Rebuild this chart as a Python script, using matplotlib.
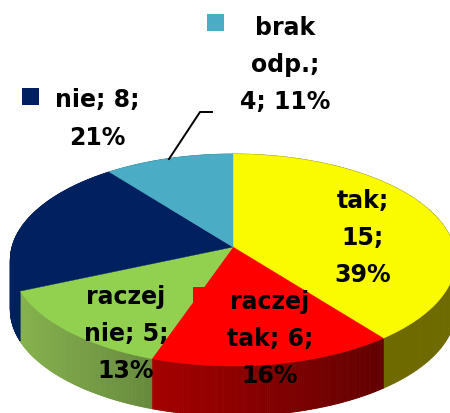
import numpy as np
import matplotlib
matplotlib.use("Agg")
import matplotlib.pyplot as plt
from matplotlib.patches import Polygon, Rectangle
from matplotlib.colors import LinearSegmentedColormap

# dane
kategorie = ["tak", "raczej tak", "raczej nie", "nie", "brak odp."]
wartosci = [15, 6, 5, 8, 4]
etykiety = ["tak;\n15;\n39%", "raczej\ntak; 6;\n16%", "raczej\nnie; 5;\n13%", "nie; 8;\n21%", "brak\nodp.;\n4; 11%"]
kolory = ["#FBFB00", "#FF0000", "#92D050", "#002060", "#4BACC6"]
bok_lewy = ["#6E6A00", "#A50000", "#86B24E", "#002060", "#3A8496"]
bok_prawy = ["#6E6A00", "#620000", "#668A3C", "#002060", "#3A8496"]

# pozycje tekstu i kwadratow legendy (piksele)
tekst_xy = [(363, 238), (270, 339), (126, 334), (97, 119), (285, 65)]
kwadrat_xy = [(305, 192), (193, 288), (50, 290), (22, 89), (207, 15)]

# geometria "3D"
cx, cy = 233, 248
a, b, k = 221, 104.4, 0.1227
glebokosc = 50


def punkt(theta):
    u, v = np.sin(theta), np.cos(theta)
    w = 1 + k * v
    return cx + a * u / w, cy - b * v / w


fig = plt.figure(figsize=(4.5, 4.14), dpi=100)
ax = fig.add_axes([0, 0, 1, 1])
ax.set_xlim(0, 450)
ax.set_ylim(414, 0)
ax.axis("off")

granice = np.cumsum([0] + wartosci) / sum(wartosci) * 2 * np.pi

# boki
for i in range(len(wartosci)):
    th = np.linspace(granice[i], granice[i + 1], 120)
    x, y = punkt(th)
    cmap = LinearSegmentedColormap.from_list("b", [bok_lewy[i], bok_prawy[i]])
    for j in range(len(th) - 1):
        t = (x[j] - x.min()) / (x.max() - x.min())
        quad = [(x[j], y[j]), (x[j + 1], y[j + 1]), (x[j + 1], y[j + 1] + glebokosc), (x[j], y[j] + glebokosc)]
        ax.add_patch(Polygon(quad, closed=True, fc=cmap(t), ec=cmap(t), lw=0.6, zorder=2))

# wierzch
for i in range(len(wartosci)):
    th = np.linspace(granice[i], granice[i + 1], 100)
    x, y = punkt(th)
    xy = np.vstack([[cx, cy], np.column_stack([x, y])])
    ax.add_patch(Polygon(xy, closed=True, fc=kolory[i], ec=kolory[i], lw=0.3, zorder=3))

# linia do etykiety
ax.plot([169, 200, 212], [160, 113, 113], color="black", lw=1.4, zorder=4)

# etykiety
for i in range(len(etykiety)):
    ax.add_patch(Rectangle(kwadrat_xy[i], 17, 17, fc=kolory[i], ec="none", zorder=5))
    ax.text(tekst_xy[i][0], tekst_xy[i][1], etykiety[i], ha="center", va="center",
            fontsize=17, fontweight="bold", family="DejaVu Sans", linespacing=1.69, zorder=6)

fig.savefig("out.png", dpi=100)
